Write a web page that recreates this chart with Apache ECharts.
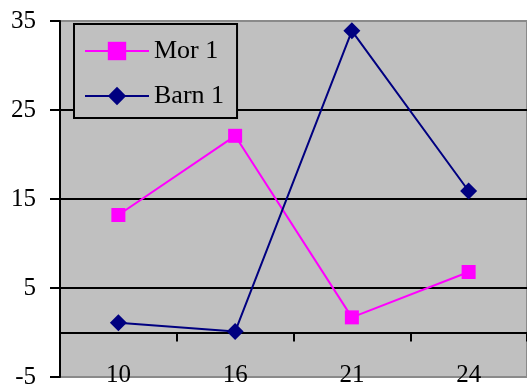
<!DOCTYPE html>
<html><head><meta charset="utf-8">
<script src="https://cdn.jsdelivr.net/npm/echarts@6/dist/echarts.min.js"></script>
<style>html,body{margin:0;padding:0;background:#fff}#c{width:527px;height:389px}</style>
</head><body><div id="c"></div>
<script>
const categories = ['10', '16', '21', '24'];
const mor1 = [13.2, 22.1, 1.7, 6.8];
const barn1 = [1.1, 0.1, 33.9, 15.9];
const yTicks = { min: -5, max: 35, interval: 10 };

const font = '"Liberation Serif", "Times New Roman", serif';
const chart = echarts.init(document.getElementById('c'));
chart.setOption({
  animation: false,
  backgroundColor: '#ffffff',
  grid: { left: 60, right: 0, top: 21, bottom: 12, show: true, backgroundColor: '#C0C0C0', borderColor: '#8a8a8a', borderWidth: 2, containLabel: false, outerBoundsMode: 'none' },
  legend: {
    orient: 'vertical', left: 74, top: 24,
    backgroundColor: '#C0C0C0', borderColor: '#000', borderWidth: 2,
    padding: [14, 13, 9, 10], itemGap: 19, itemWidth: 64, itemHeight: 23,
    textStyle: { fontFamily: font, fontSize: 26, color: '#000' },
    data: ['Mor 1', 'Barn 1']
  },
  xAxis: [
    { type: 'category', data: categories, position: 'bottom', boundaryGap: true,
      axisLine: { show: false }, axisTick: { show: false }, splitLine: { show: false },
      axisLabel: { margin: -14, fontFamily: font, fontSize: 25, color: '#000' } },
    { type: 'category', data: categories, position: 'bottom', offset: -44.5, boundaryGap: true,
      axisLine: { show: true, onZero: false, lineStyle: { color: '#000', width: 2 } },
      axisTick: { show: true, inside: false, length: 9, lineStyle: { color: '#000', width: 2 } },
      axisLabel: { show: false }, splitLine: { show: false } }
  ],
  yAxis: {
    type: 'value', min: yTicks.min, max: yTicks.max, interval: yTicks.interval,
    axisLine: { show: true, onZero: false, lineStyle: { color: '#000', width: 2 } },
    axisTick: { show: true, inside: false, length: 10, lineStyle: { color: '#000', width: 2 } },
    axisLabel: { margin: 24, fontFamily: font, fontSize: 25, color: '#000' },
    splitLine: { show: true, lineStyle: { color: ['#8a8a8a', '#000', '#000', '#000', '#8a8a8a'], width: 2 } }
  },
  series: [
    { name: 'Mor 1', type: 'line', data: mor1, xAxisIndex: 0, symbol: 'rect', symbolSize: 14,
      lineStyle: { color: '#FF00FF', width: 2 }, itemStyle: { color: '#FF00FF' } },
    { name: 'Barn 1', type: 'line', data: barn1, xAxisIndex: 0, symbol: 'diamond', symbolSize: 17,
      lineStyle: { color: '#000080', width: 2 }, itemStyle: { color: '#000080' } }
  ]
});
</script></body></html>
